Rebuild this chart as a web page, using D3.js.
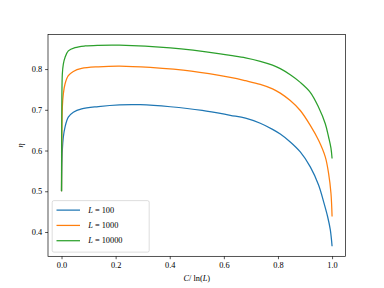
<!DOCTYPE html>
<html>
<head>
<meta charset="utf-8">
<script src="https://cdn.jsdelivr.net/npm/d3@7"></script>
<style>
  body { margin: 0; background: #fff; }
  text { font-family: "Liberation Serif", "DejaVu Serif", serif; }
</style>
</head>
<body>
<div id="chart"></div>
<script>
// values: x = C/ln(L), y = eta
const xBlue   = [0, 0.0008, 0.003, 0.0067, 0.0129, 0.0251, 0.0436, 0.0743, 0.136, 0.2147, 0.291, 0.402, 0.52, 0.6238, 0.68, 0.7346, 0.78, 0.8086, 0.8455, 0.8825, 0.9195, 0.9501, 0.9686, 0.9834, 0.9934, 1.0]
const yBlue   = [0.5, 0.55, 0.6007, 0.6332, 0.6576, 0.682, 0.6941, 0.7024, 0.708, 0.7122, 0.7125, 0.7075, 0.6985, 0.6865, 0.6795, 0.667, 0.652, 0.6405, 0.621, 0.5966, 0.56, 0.5154, 0.4746, 0.438, 0.4056, 0.365]

const xOrange = [0, 0.0008, 0.003, 0.0067, 0.0129, 0.0251, 0.0436, 0.0743, 0.136, 0.2147, 0.328, 0.48, 0.6238, 0.68, 0.7346, 0.78, 0.8086, 0.8455, 0.8825, 0.9195, 0.9501, 0.9749, 0.9871, 0.9959, 1.0]
const yOrange = [0.5, 0.61, 0.7063, 0.739, 0.7634, 0.7837, 0.7941, 0.8015, 0.8056, 0.8073, 0.8039, 0.795, 0.7795, 0.7715, 0.7625, 0.7515, 0.741, 0.7227, 0.6983, 0.6617, 0.6251, 0.5844, 0.5439, 0.4951, 0.438]

const xGreen  = [0, 0.0008, 0.003, 0.0067, 0.0129, 0.0251, 0.0499, 0.0868, 0.136, 0.2136, 0.402, 0.5868, 0.6238, 0.68, 0.7346, 0.78, 0.8086, 0.8455, 0.8825, 0.9195, 0.9501, 0.9749, 0.9871, 0.9959, 1.0]
const yGreen  = [0.5, 0.66, 0.7878, 0.8122, 0.8283, 0.8446, 0.8527, 0.8568, 0.8585, 0.8588, 0.852, 0.8375, 0.8335, 0.8275, 0.819, 0.8095, 0.801, 0.786, 0.7673, 0.7429, 0.7063, 0.6659, 0.6332, 0.606, 0.5805]

const seriesNames = ["100", "1000", "10000"]
const colors = ["#1f77b4", "#ff7f0e", "#2ca02c"]
const xTicks = [0.0, 0.2, 0.4, 0.6, 0.8, 1.0]
const yTicks = [0.4, 0.5, 0.6, 0.7, 0.8]

const W = 384, H = 288
const margin = {top: 34.56, right: 384 - 345.6, bottom: 288 - 256.32, left: 48}
const width = W - margin.left - margin.right,
      height = H - margin.top - margin.bottom
const fs = 8.33

const series = [
  d3.zip(xBlue, yBlue),
  d3.zip(xOrange, yOrange),
  d3.zip(xGreen, yGreen)
]

const svg = d3.select("#chart").append("svg")
    .attr("width", W)
    .attr("height", H)

const g = svg.append("g")
    .attr("transform", "translate(" + margin.left + "," + margin.top + ")")

const x = d3.scaleLinear().domain([-0.05, 1.05]).range([0, width])
const y = d3.scaleLinear().domain([0.34025, 0.88475]).range([height, 0])

// curves
const line = d3.line()
  .x(function(d) { return x(d[0]) })
  .y(function(d) { return y(d[1]) })
  .curve(d3.curveCatmullRom.alpha(0.5))

g.append("g").selectAll("path")
  .data(series)
  .enter()
  .append("path")
    .attr("d", line)
    .attr("fill", "none")
    .attr("stroke", function(_, i) { return colors[i] })
    .attr("stroke-width", 1.25)
    .attr("stroke-linejoin", "round")
    .attr("stroke-linecap", "butt")

// axes
const xAxis = g.append("g")
  .attr("transform", "translate(0," + height + ")")
  .call(d3.axisBottom(x).tickValues(xTicks).tickFormat(d3.format(".1f")).tickSize(2.9).tickPadding(2.9))
const yAxis = g.append("g")
  .call(d3.axisLeft(y).tickValues(yTicks).tickFormat(d3.format(".1f")).tickSize(2.9).tickPadding(2.9))

;[xAxis, yAxis].forEach(function(a) {
  a.select(".domain").remove()
  a.selectAll("line").attr("stroke", "#000").attr("stroke-width", 0.67)
  a.selectAll("text").style("font-size", fs + "px").attr("fill", "#000")
    .style("font-family", '"Liberation Serif", "DejaVu Serif", serif')
})

// frame
g.append("rect")
  .attr("width", width).attr("height", height)
  .attr("fill", "none").attr("stroke", "#000").attr("stroke-width", 0.67)

// axis labels
const xl = svg.append("text")
  .attr("x", margin.left + width / 2)
  .attr("y", 281)
  .attr("text-anchor", "middle")
  .style("font-size", fs + "px")
xl.append("tspan").style("font-style", "italic").text("C")
xl.append("tspan").text("/ ln(")
xl.append("tspan").style("font-style", "italic").text("L")
xl.append("tspan").text(")")

svg.append("text")
  .attr("transform", "translate(23," + (margin.top + height / 2) + ") rotate(-90)")
  .attr("text-anchor", "middle")
  .style("font-size", fs + "px")
  .style("font-style", "italic")
  .text("η")

// legend
const lg = g.append("g").attr("transform", "translate(4.2," + (height - 4.2 - 51.5) + ")")
lg.append("rect")
  .attr("width", 97).attr("height", 51.5)
  .attr("rx", 1.7)
  .attr("fill", "#fff").attr("fill-opacity", 0.8)
  .attr("stroke", "#ccc").attr("stroke-width", 0.67)

const items = lg.selectAll("g.item")
  .data(seriesNames)
  .enter()
  .append("g")
  .attr("class", "item")
  .attr("transform", function(_, i) { return "translate(0," + (9.5 + i * 15.3) + ")" })

items.append("line")
  .attr("x1", 4.3).attr("x2", 27.8)
  .attr("stroke", function(_, i) { return colors[i] })
  .attr("stroke-width", 1.25)

const lt = items.append("text")
  .attr("x", 36)
  .attr("dy", "0.32em")
  .style("font-size", fs + "px")
lt.append("tspan").style("font-style", "italic").text("L")
lt.append("tspan").text(function(d) { return " = " + d })
</script>
</body>
</html>
